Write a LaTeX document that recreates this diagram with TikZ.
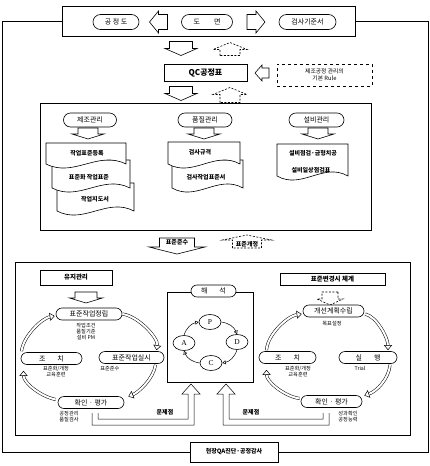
\documentclass[tikz,border=0pt]{standalone}
\usepackage{fontspec}
\setmainfont{Noto Sans CJK KR}
\newfontfamily\latinserif{Liberation Serif}
\usetikzlibrary{shapes.misc,shapes.geometric,arrows.meta,calc}

\tikzset{
  lbl/.style={draw, rounded rectangle, inner sep=1pt, minimum height=13pt, fill=white, font=\fontsize{7}{8}\selectfont},
  tbox/.style={draw, rectangle, inner sep=1pt, fill=white, font=\bfseries\fontsize{6.5}{7.5}\selectfont},
  sub/.style={inner sep=0pt, align=center, font=\fontsize{5.2}{6}\selectfont},
  doctext/.style={inner sep=0pt, font=\bfseries\fontsize{6}{7}\selectfont},
  cyc/.style={draw, ellipse, minimum width=22pt, minimum height=15pt, inner sep=0pt, font=\latinserif\fontsize{7.5}{8}\selectfont},
  harrow/.style={double, double distance=2pt, line width=0.5pt, -{Triangle[open, length=5pt, width=8pt]}},
  parrow/.style={-{Triangle[open, length=3.5pt, width=4pt]}, line width=0.5pt},
  dashedarrow/.style={dash pattern=on 2pt off 1.5pt},
}

% #1 style, #2 cx, #3 cy, #4 angle, #5 length, #6 head length, #7 body width, #8 head width
\newcommand\blockarrow[8][]{%
  \draw[#1, shift={(#2,#3)}, rotate=#4]
    ({-#5/2},{-#7/2}) -- ({#5/2-#6},{-#7/2}) -- ({#5/2-#6},{-#8/2}) -- ({#5/2},0)
    -- ({#5/2-#6},{#8/2}) -- ({#5/2-#6},{#7/2}) -- ({-#5/2},{#7/2}) -- cycle;}

% #1 x1, #2 top, #3 x2, #4 bottom
\newcommand\docshape[4]{%
  \draw[fill=white] (#1,#4) -- (#1,#2) -- (#3,#2) -- (#3,#4)
    .. controls ({#3-0.35*(#3-#1)},{#4-14}) and ({#1+0.35*(#3-#1)},{#4+14}) .. (#1,#4) -- cycle;}

\begin{document}
\begin{tikzpicture}[x=1pt, y=-1pt, line width=0.6pt]
\useasboundingbox (0,0) rectangle (430,466);

% ---------- top row ----------
\node[draw, minimum width=293pt, minimum height=30pt, inner sep=0pt] (top) at (208.5,21.5) {};
\node[draw, minimum width=88pt, minimum height=20pt, inner sep=0pt, font=\bfseries\fontsize{6}{7}\selectfont] (bot) at (234,452) {현장QA진단·공정감사};
\draw (top.west) -- ++(-59,0) |- (bot.west);
\draw (top.east) -- ++(73,0) |- (bot.east);

\node[lbl, minimum width=48pt, minimum height=15pt] (gjd) at (116,22) {공 정 도};
\node[lbl, minimum width=53pt, minimum height=15pt] (dm) at (207,22) {도\hspace{14pt}면};
\node[lbl, minimum width=59pt, minimum height=15pt] (gsg) at (307.5,22) {검사기준서};
\blockarrow{158.5}{22}{180}{18}{9}{15}{22}
\blockarrow{256}{22}{0}{18}{9}{15}{22}

% ---------- QC process chart ----------
\blockarrow{181}{48.5}{-90}{14}{7}{23}{32}
\blockarrow[dashedarrow]{230}{49}{90}{13}{7}{20}{34}
\node[draw, minimum width=83pt, minimum height=17pt, inner sep=0pt, font=\bfseries\fontsize{8}{9}\selectfont] (qc) at (205.5,72.5) {QC공정표};
\blockarrow{262}{73}{180}{14}{7}{10}{16}
\node[draw, dashed, minimum width=95pt, minimum height=22pt, inner sep=0pt, align=center, font=\fontsize{5.8}{7.5}\selectfont] (rule) at (324.5,75) {제조공정 관리의\\기본 Rule};
\blockarrow{181}{93.5}{-90}{14}{7}{23}{32}
\blockarrow[dashedarrow]{230}{95}{90}{15}{7}{20}{34}

% ---------- management box ----------
\node[draw, minimum width=331pt, minimum height=127pt, inner sep=0pt] (mid) at (205.5,166.5) {};
\node[lbl, minimum width=55pt, minimum height=14pt] (c1) at (90,120) {제조관리};
\node[lbl, minimum width=56pt, minimum height=14pt] (c2) at (205,120) {품질관리};
\node[lbl, minimum width=57pt, minimum height=14pt] (c3) at (316.5,120) {설비관리};
\blockarrow{88}{133.5}{-90}{11}{5}{20}{32}
\blockarrow{204}{133.5}{-90}{11}{5}{20}{32}
\blockarrow{318}{133.5}{-90}{11}{5}{20}{32}

\docshape{57}{183}{134}{211}
\docshape{52}{160}{130}{188}
\docshape{46}{143}{126}{164}
\node[doctext] (d11) at (87,153) {작업표준등록};
\node[doctext] (d12) at (89,177) {표준화 작업표준};
\node[doctext] (d13) at (95,199) {작업지도서};

\docshape{172}{160}{243}{188}
\docshape{168}{142}{240}{164}
\node[doctext] (d21) at (200,152) {검사규격};
\node[doctext] (d22) at (206,177) {검사작업표준서};

\docshape{277}{144}{348}{176}
\node[doctext] (d31) at (313,153) {설비점검·금형치공};
\node[doctext] (d32) at (311,170) {설비일상점검표};

% ---------- standard compliance / revision ----------
\blockarrow[fill=white]{177}{246}{-90}{16}{7}{35}{56}
\node[doctext] (sc) at (177,242.5) {표준준수};
\blockarrow[dashedarrow, fill=white]{247}{241.5}{90}{13}{5}{29}{49}
\node[doctext] (sr) at (247,244) {표준개정};

% ---------- lower frame ----------
\node[draw, minimum width=395pt, minimum height=173pt, inner sep=0pt] (low) at (212.5,348.5) {};
\node[tbox, minimum width=72pt, minimum height=15pt] (yj) at (76,277.5) {유지관리};
\node[tbox, minimum width=105pt, minimum height=12pt] (pb) at (332.5,279) {표준변경시 체계};
\blockarrow{86}{297.5}{-90}{11}{5}{22}{33}
\blockarrow[dashedarrow]{330}{298.5}{-90}{13}{6}{16}{26}

% ---------- centre: analysis / PDCA ----------
\node[draw, minimum width=86pt, minimum height=90pt, inner sep=0pt] (ctr) at (210,337) {};
\node[lbl, minimum width=47pt, minimum height=12pt] (hs) at (213.5,291) {해\hspace{12pt}석};
\node[cyc] (P) at (210,322) {P};
\node[cyc] (D) at (237,342) {D};
\node[cyc] (C) at (211,363) {C};
\node[cyc] (A) at (184,343) {A};
\draw[parrow] (P.east) to[bend left=30] (D.north);
\draw[parrow] (D.south) to[bend left=30] (C.east);
\draw[parrow] (C.west) to[bend left=30] (A.south);
\draw[parrow] (A.north) to[bend left=30] (P.west);

% ---------- left cycle ----------
\node[lbl, minimum width=68pt, minimum height=12pt] (l1) at (89,314) {표준작업정립};
\node[sub] (l1s) at (86,332) {작업조건\\품질기준\\설비 PM};
\node[lbl, minimum width=63pt, minimum height=12pt] (l4) at (51.5,358.5) {조\hspace{12pt}치};
\node[sub] (l4s) at (56,371.5) {표준화/개정\\교육훈련};
\node[lbl, minimum width=67pt, minimum height=12pt] (l2) at (131.5,357.5) {표준작업실시};
\node[sub, anchor=west] (l2s) at (100,369) {표준준수};
\node[lbl, minimum width=68pt, minimum height=12pt] (l3) at (91,402.5) {확인 · 평가};
\node[sub] (l3s) at (69,417) {공정관리\\품질검사};

\draw[harrow] (l1.east) .. controls +(16,2) and +(2,-12) .. ($(l2.north)+(25,-1)$);
\draw[harrow] ($(l2.south)+(24,1)$) .. controls +(-2,14) and +(10,-4) .. ($(l3.east)+(4,-6)$);
\draw[harrow] ($(l3.west)+(-2,-3)$) .. controls +(-15,-3) and +(0,12) .. ($(l4.south)+(-28,6)$);
\draw[harrow] ($(l4.north)+(-30,-1)$) .. controls +(2,-16) and +(-12,2) .. ($(l1.west)+(-1,2)$);

% ---------- right cycle ----------
\node[lbl, minimum width=63pt, minimum height=12pt] (r1) at (333.5,311) {개선계획수립};
\node[sub] (r1s) at (332,324) {목표설정};
\node[lbl, minimum width=59pt, minimum height=12pt] (r4) at (287.5,357.5) {조\hspace{12pt}치};
\node[sub] (r4s) at (298,371.5) {표준화/개정\\교육훈련};
\node[lbl, minimum width=60pt, minimum height=12pt] (r2) at (368,357.5) {실\hspace{12pt}행};
\node[sub] (r2s) at (360,368) {Trial};
\node[lbl, minimum width=63pt, minimum height=12pt] (r3) at (331.5,401.5) {확인 · 평가};
\node[sub] (r3s) at (348,417) {성과확인\\공정능력};

\draw[harrow] ($(r4.north)+(-21,-1)$) .. controls +(1,-16) and +(-14,2) .. ($(r1.west)+(-1,3)$);
\draw[harrow] ($(r1.east)+(1,3)$) .. controls +(12,3) and +(0,-12) .. ($(r2.north)+(20,-1)$);
\draw[harrow] ($(r2.south)+(22,1)$) .. controls +(-1,14) and +(12,-4) .. ($(r3.east)+(2,-6)$);
\draw[harrow] ($(r3.west)+(-1,-3)$) .. controls +(-15,-2) and +(0,12) .. ($(r4.south)+(-21,6)$);

% ---------- problem feedback arrows ----------
\draw[line width=0.5pt] (98,413) -- (98,419) -- (188,419) -- (188,394) -- (182,394) -- (191,384)
  -- (200,394) -- (194,394) -- (194,425) -- (92,425) -- (92,413);
\draw[line width=0.5pt] (323,413) -- (323,419) -- (229,419) -- (229,394) -- (235,394) -- (226,384)
  -- (217,394) -- (223,394) -- (223,425) -- (329,425) -- (329,413);
\node[doctext] (p1) at (165,412) {문제점};
\node[doctext] (p2) at (251,412) {문제점};
\end{tikzpicture}
\end{document}
